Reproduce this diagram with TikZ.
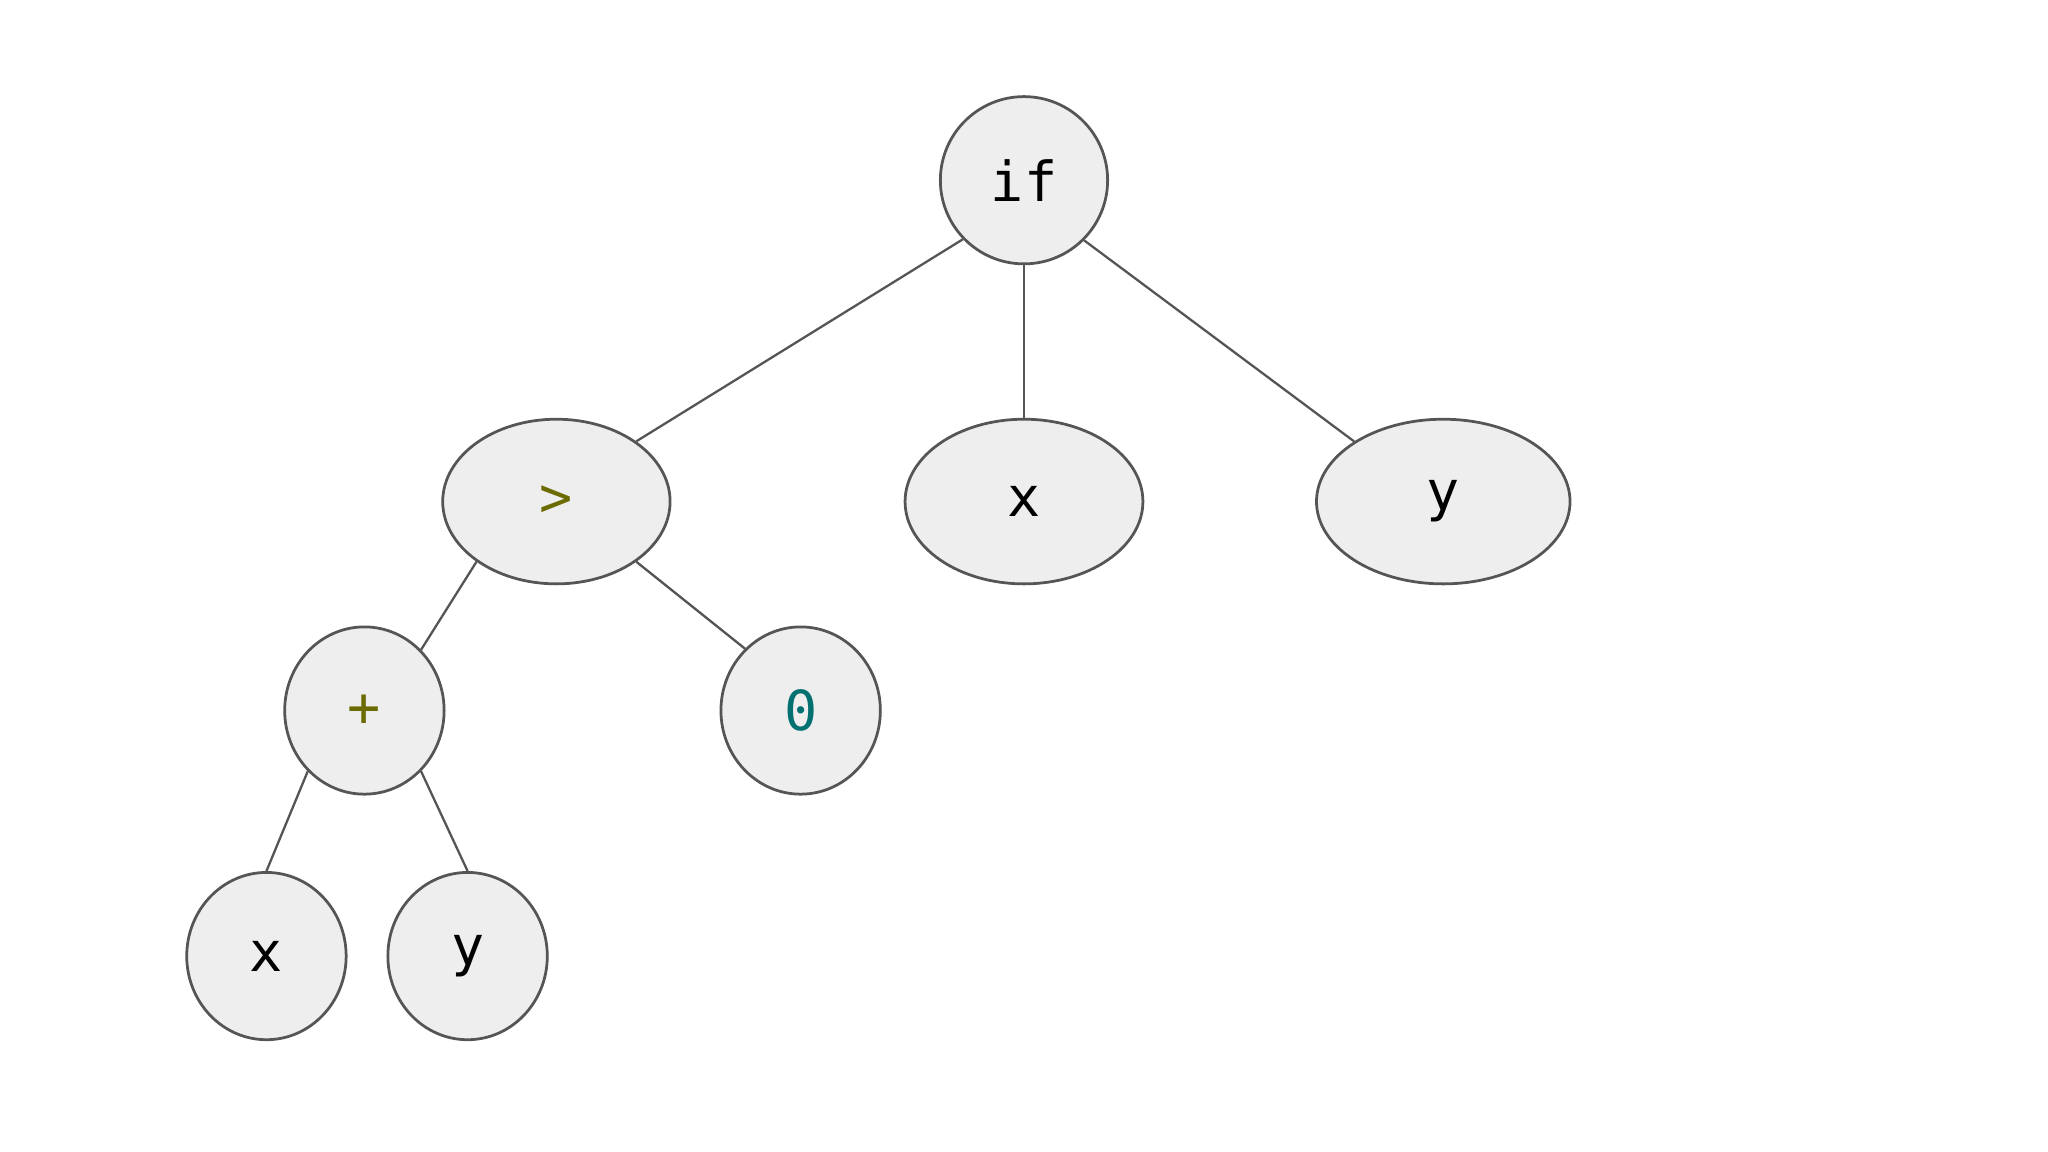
\documentclass[tikz,border=0pt]{standalone}
\usepackage{fontspec}
\setmonofont{DejaVu Sans Mono}
\usetikzlibrary{shapes.geometric}
\definecolor{nodefill}{HTML}{EFEEEF}
\definecolor{nodeline}{HTML}{555555}
\definecolor{opcolor}{HTML}{6B6B00}
\definecolor{numcolor}{HTML}{007070}
\tikzset{
  term/.style={ellipse, draw=nodeline, fill=nodefill, line width=0.6pt,
    inner sep=0pt, font=\ttfamily\fontsize{12}{14}\selectfont},
  edge/.style={draw=nodeline, line width=0.5pt}
}
\begin{document}
\begin{tikzpicture}[x=0.01cm, y=-0.01cm]
    \useasboundingbox (0,0) rectangle (1568,882);

    % tree of terms
    \node[term, minimum width=1.28cm, minimum height=1.28cm] (if) at (784,138) {if};
    \node[term, minimum width=1.74cm, minimum height=1.26cm, text=opcolor] (gt) at (426,384) {>};
    \node[term, minimum width=1.82cm, minimum height=1.26cm] (xa) at (784,384) {x};
    \node[term, minimum width=1.94cm, minimum height=1.26cm] (ya) at (1105,384) {y};
    \node[term, minimum width=1.22cm, minimum height=1.28cm, text=opcolor] (plus) at (279,544) {+};
    \node[term, minimum width=1.22cm, minimum height=1.28cm, text=numcolor] (zero) at (613,544) {0};
    \node[term, minimum width=1.22cm, minimum height=1.28cm] (xb) at (204,732) {x};
    \node[term, minimum width=1.22cm, minimum height=1.28cm] (yb) at (358,732) {y};

    % connectors
    \draw[edge] (if.224) -- (gt.37);
    \draw[edge] (if.south) -- (xa.north);
    \draw[edge] (if.315) -- (ya.146);
    \draw[edge] (gt.217) -- (plus.47);
    \draw[edge] (gt.323) -- (zero.132);
    \draw[edge] (plus.227) -- (xb.north);
    \draw[edge] (plus.313) -- (yb.north);
\end{tikzpicture}
\end{document}
